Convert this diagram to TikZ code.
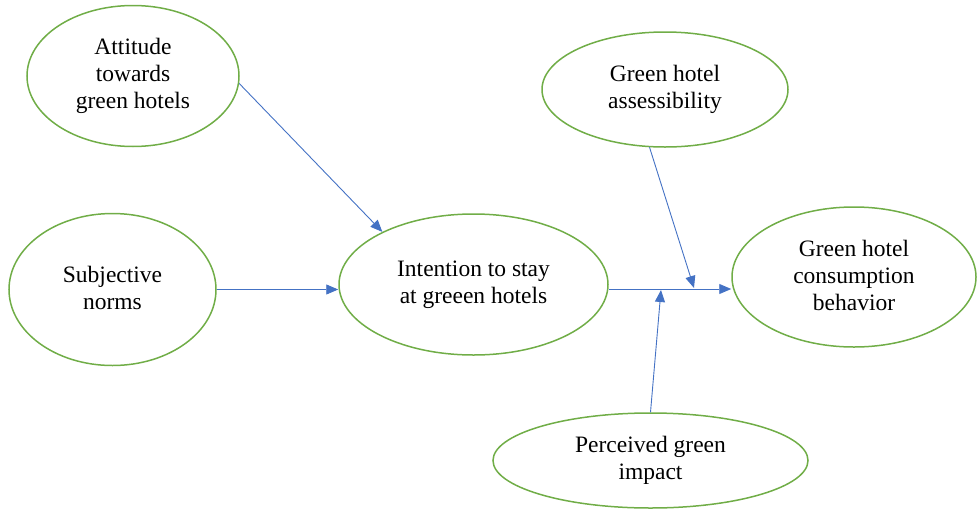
\documentclass[tikz,border=0pt]{standalone}
\usepackage{fontspec}
\setmainfont{Liberation Serif}
\usetikzlibrary{shapes.geometric,arrows.meta}
\definecolor{ovalgreen}{HTML}{70AD47}
\definecolor{linkblue}{HTML}{4472C4}

\begin{document}
\begin{tikzpicture}[x=1pt,y=-1pt,
  construct/.style={ellipse, draw=ovalgreen, line width=1.5pt, inner sep=0pt,
    align=center, font=\fontsize{23.5}{27}\selectfont,
    % fixed first-line height and last-line depth, so every label sits alike
    execute at begin node={\rule{0pt}{20pt}},
    execute at end node={\rule[-4pt]{0pt}{0pt}}},
  link/.style={draw=linkblue, line width=0.9pt, -{Triangle[length=12pt,width=10pt]}}]
\useasboundingbox (0,0) rectangle (977,509);

% constructs
\node[construct, minimum width=212pt, minimum height=141pt] (att) at (133,76)
  {Attitude\\towards\\green hotels};
\node[construct, minimum width=207pt, minimum height=152pt] (subj) at (112.5,289.5)
  {Subjective\\norms};
\node[construct, minimum width=269pt, minimum height=141pt] (int) at (473.5,284.5)
  {Intention to stay\\at greeen hotels};
\node[construct, minimum width=246pt, minimum height=115pt] (ass) at (665,89.5)
  {Green hotel\\assessibility};
\node[construct, minimum width=244pt, minimum height=140pt] (cons) at (854,277)
  {Green hotel\\consumption\\behavior};
\node[construct, minimum width=315pt, minimum height=95pt] (perc) at (650.5,460.5)
  {Perceived green\\impact};

% level of the path into consumption behavior, and the two moderator points on it
\coordinate (mainline) at (0,289);
\coordinate (ja) at (694,288);
\coordinate (jb) at (661,290);

% paths
\draw[link] (att.-4) -- (int.150.4);
\draw[link] (subj.east) -- (subj.east -| int.west);
\draw[link] (int.east |- mainline) -- (cons.west |- mainline);
\draw[link] (ass.-105) -- (ja);
\draw[link] (perc.north) -- (jb);
\end{tikzpicture}
\end{document}
